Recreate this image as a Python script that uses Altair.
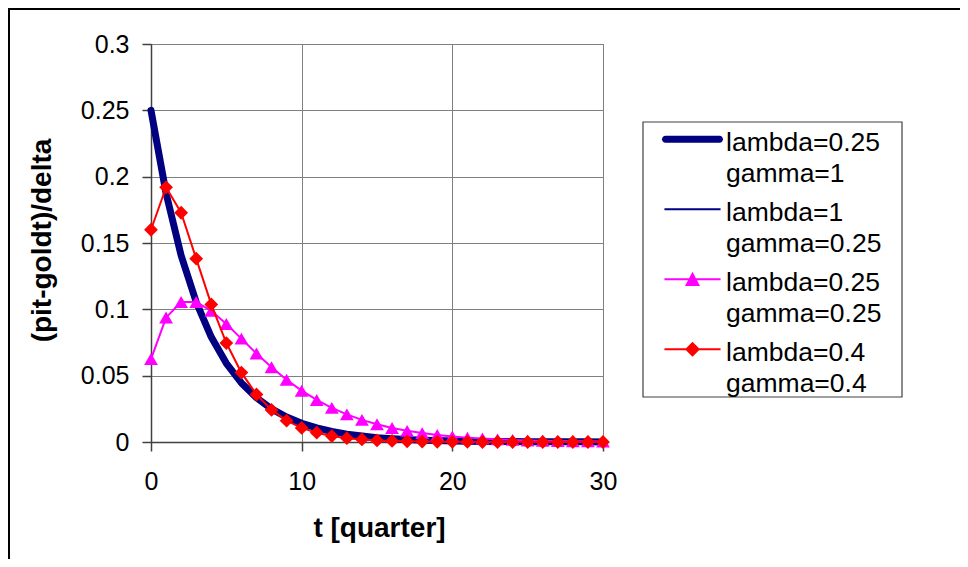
import altair as alt
import pandas as pd

t_values = list(range(31))
series_names = [
    "lambda=0.25 gamma=1",
    "lambda=1 gamma=0.25",
    "lambda=0.25 gamma=0.25",
    "lambda=0.4 gamma=0.4",
]
s1 = [0.25, 0.1875, 0.1406, 0.1055, 0.0791, 0.0593, 0.0445, 0.0334, 0.0250, 0.0188,
      0.0141, 0.0106, 0.0079, 0.0059, 0.0045, 0.0033, 0.0025, 0.0019, 0.0014, 0.0011,
      0.0008, 0.0006, 0.0004, 0.0003, 0.0003, 0.0002, 0.0001, 0.0001, 0.0001, 0.0001, 0.0000]
s2 = [0.25, 0.1875, 0.1406, 0.1055, 0.0791, 0.0593, 0.0445, 0.0334, 0.0250, 0.0188,
      0.0141, 0.0106, 0.0079, 0.0059, 0.0045, 0.0033, 0.0025, 0.0019, 0.0014, 0.0011,
      0.0008, 0.0006, 0.0004, 0.0003, 0.0003, 0.0002, 0.0001, 0.0001, 0.0001, 0.0001, 0.0000]
s3 = [0.0625, 0.0938, 0.1055, 0.1055, 0.0989, 0.0890, 0.0779, 0.0667, 0.0563, 0.0469,
      0.0387, 0.0317, 0.0257, 0.0208, 0.0167, 0.0134, 0.0106, 0.0084, 0.0067, 0.0053,
      0.0042, 0.0033, 0.0026, 0.0020, 0.0016, 0.0012, 0.0010, 0.0007, 0.0006, 0.0005, 0.0004]
s4 = [0.16, 0.192, 0.1728, 0.1382, 0.1037, 0.0746, 0.0523, 0.0358, 0.0242, 0.0161,
      0.0106, 0.0070, 0.0045, 0.0029, 0.0019, 0.0012, 0.0008, 0.0005, 0.0003, 0.0002,
      0.0001, 0.0001, 0.0000, 0.0000, 0.0000, 0.0000, 0.0000, 0.0000, 0.0000, 0.0000, 0.0000]
colors = ["#000080", "#000080", "#FF00FF", "#FF0000"]
x_ticks = [0, 10, 20, 30]
y_ticks = [0, 0.05, 0.1, 0.15, 0.2, 0.25, 0.3]

# legend symbol shapes (unit coords, 1 unit = 15 px at symbolSize 900)
legend_paths = [
    "M-1.8,-0.483H1.8A0.233,0.233,0,0,1,1.8,-0.017H-1.8A0.233,0.233,0,0,1,-1.8,-0.483Z",
    "M-1.87,-0.317H1.87V-0.183H-1.87Z",
    "M-1.87,-0.317H1.87V-0.183H-1.87ZM0,-0.757L0.5,0.197H-0.5Z",
    "M-1.87,-0.317H1.87V-0.183H-1.87ZM0,-0.75L0.5,-0.25L0,0.25L-0.5,-0.25Z",
]

rows = []
for name, vals in zip(series_names, [s1, s2, s3, s4]):
    for t, v in zip(t_values, vals):
        rows.append({"series": name, "t": t, "v": v})
df = pd.DataFrame(rows)

FONT = "Liberation Sans"

x_enc = alt.X("t:Q", scale=alt.Scale(domain=[0, 30], nice=False),
              axis=alt.Axis(values=x_ticks, title="t [quarter]", format="d",
                            tickSize=9, labelPadding=18, labelFontSize=25,
                            labelFont=FONT, labelColor="black", labelFlush=False,
                            domainColor="#404040", tickColor="#404040",
                            domainWidth=1.5, tickWidth=1.5,
                            grid=True, gridColor="#808080", gridWidth=1,
                            titleFont=FONT, titleFontSize=28, titleFontWeight="bold",
                            titleColor="black", titleBaseline="alphabetic",
                            titleY=94, titleX=228))
y_enc = alt.Y("v:Q", scale=alt.Scale(domain=[0, 0.3], nice=False),
              axis=alt.Axis(values=y_ticks, title="(pit-goldt)/delta", format=".2~f",
                            tickSize=9, labelPadding=13, labelFontSize=25,
                            labelFont=FONT, labelColor="black", labelFlush=False,
                            domainColor="#404040", tickColor="#404040",
                            domainWidth=1.5, tickWidth=1.5,
                            grid=True, gridColor="#808080", gridWidth=1,
                            titleFont=FONT, titleFontSize=28, titleFontWeight="bold",
                            titleColor="black", titleAngle=270,
                            titleBaseline="alphabetic", titleAlign="center",
                            titleX=-101, titleY=196))

base = alt.Chart(df)

def sel(i):
    return base.transform_filter(alt.datum.series == series_names[i])

l1 = sel(0).mark_line(color=colors[0], strokeWidth=7, strokeCap="round",
                      strokeJoin="round").encode(x=x_enc, y=y_enc)
l2 = sel(1).mark_line(color=colors[1], strokeWidth=2).encode(x="t:Q", y="v:Q")
l3 = sel(2).mark_line(color=colors[2], strokeWidth=2).encode(x="t:Q", y="v:Q")
p3 = sel(2).mark_point(shape="triangle-up", filled=True, size=190, opacity=1,
                       color=colors[2]).encode(x="t:Q", y="v:Q")
l4 = sel(3).mark_line(color=colors[3], strokeWidth=2).encode(x="t:Q", y="v:Q")
p4 = sel(3).mark_point(shape="diamond", filled=True, size=190, opacity=1,
                       color=colors[3]).encode(x="t:Q", y="v:Q")

legend = alt.Legend(
    title=None, orient="none", legendX=492, legendY=78,
    strokeColor="transparent", fillColor="transparent", padding=6,
    symbolSize=900, symbolStrokeWidth=0, symbolOpacity=1,
    symbolOffset=28.5, labelOffset=18.5, rowPadding=10,
    labelFont=FONT, labelFontSize=26.5, labelColor="black", labelLimit=400,
    labelExpr="split(datum.label, ' ')",
)
leg = base.transform_filter(alt.datum.t == 0).mark_point(
    filled=True, opacity=0).encode(
    x="t:Q", y="v:Q",
    color=alt.Color("series:N", scale=alt.Scale(domain=series_names, range=colors),
                    legend=legend, sort=series_names),
    shape=alt.Shape("series:N", scale=alt.Scale(domain=series_names, range=legend_paths),
                    legend=legend, sort=series_names),
)

frame_data = alt.Data(values=[{"k": 1}])
legend_box = alt.Chart(frame_data).mark_rect(
    fill="white", stroke="#404040", strokeWidth=1.2).encode(
    x=alt.value(492), x2=alt.value(751), y=alt.value(78), y2=alt.value(353))
frame_left = alt.Chart(frame_data).mark_rule(color="black", strokeWidth=2).encode(
    x=alt.value(-142), y=alt.value(-35), y2=alt.value(520))
frame_top = alt.Chart(frame_data).mark_rule(color="black", strokeWidth=2).encode(
    x=alt.value(-143), x2=alt.value(820), y=alt.value(-35))

chart = alt.layer(legend_box, l1, l2, l3, p3, l4, p4, leg, frame_left, frame_top).properties(
    width=452, height=398,
    autosize=alt.AutoSizeParams(type="none"),
    padding={"left": 143, "top": 36, "right": 357, "bottom": 117},
    background="white",
).configure(
    style={"guide-label": {"lineHeight": 31}}
).configure_view(stroke="#808080", strokeWidth=1)

chart.save("out.html", embed_options={"renderer": "svg", "actions": False})
